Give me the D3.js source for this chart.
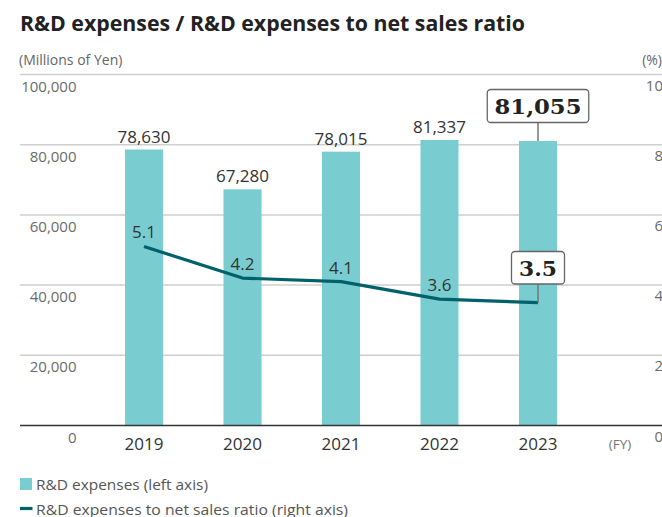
<!DOCTYPE html>
<html>
<head>
<meta charset="utf-8">
<script src="https://cdn.jsdelivr.net/npm/d3@7"></script>
<style>
  html, body { margin: 0; padding: 0; background: #fff; }
  svg { display: block; }
</style>
</head>
<body>
<svg id="chart" width="662" height="517"></svg>
<script>
const years = ["2019", "2020", "2021", "2022", "2023"];
const expenses = [78630, 67280, 78015, 81337, 81055];
const ratios = [5.1, 4.2, 4.1, 3.6, 3.5];
const leftTicks = [0, 20000, 40000, 60000, 80000, 100000];
const rightTicks = [0, 2, 4, 6, 8, 10];
const titleText = "R&D expenses / R&D expenses to net sales ratio";
const legendLabels = ["R&D expenses (left axis)", "R&D expenses to net sales ratio (right axis)"];

const svg = d3.select("#chart");
const font = "'Open Sans', sans-serif";
const barColor = "#79cdd0";
const lineColor = "#00616a";

const x = d3.scaleBand().domain(years).range([94.75, 587.25]).paddingInner(0.614).paddingOuter(0.307);
const yL = d3.scaleLinear().domain([0, 100000]).range([425.5, 74.5]);
const yR = d3.scaleLinear().domain([0, 10]).range([425.5, 74.5]);
const fmt = d3.format(",");

// Title
svg.append("text").attr("x", 20).attr("y", 31)
  .attr("font-family", font).attr("font-weight", 700).attr("font-size", 20.5)
  .attr("textLength", 505).attr("lengthAdjust", "spacingAndGlyphs")
  .attr("fill", "#222").text(titleText);

// Units
svg.append("text").attr("x", 19).attr("y", 65).attr("font-family", font)
  .attr("font-size", 14).attr("fill", "#666").text("(Millions of Yen)");
svg.append("text").attr("x", 662).attr("y", 65).attr("text-anchor", "end").attr("font-family", font)
  .attr("font-size", 14).attr("fill", "#666").text("(%)");

// Gridlines
svg.append("g").selectAll("line").data(leftTicks.filter(d => d > 0)).join("line")
  .attr("x1", 20).attr("x2", 662).attr("y1", d => yL(d)).attr("y2", d => yL(d))
  .attr("stroke", "#cfcfcf").attr("stroke-width", 1.5);

// Left axis labels
svg.append("g").selectAll("text").data(leftTicks).join("text")
  .attr("x", 76.5).attr("y", d => yL(d) + 17).attr("text-anchor", "end")
  .attr("font-family", font).attr("font-size", 15).attr("fill", "#6b6b6b")
  .text(d => fmt(d));

// Right axis labels
svg.append("g").selectAll("text").data(rightTicks).join("text")
  .attr("x", 663).attr("y", d => yR(d) + 16).attr("text-anchor", "end")
  .attr("font-family", font).attr("font-size", 15).attr("fill", "#6b6b6b")
  .text(d => d);

// Bars
svg.append("g").selectAll("rect").data(expenses).join("rect")
  .attr("x", (d, i) => x(years[i])).attr("width", x.bandwidth())
  .attr("y", d => yL(d)).attr("height", d => yL(0) - yL(d))
  .attr("fill", barColor);

// X axis baseline
svg.append("line").attr("x1", 20).attr("x2", 662).attr("y1", yL(0)).attr("y2", yL(0))
  .attr("stroke", "#333").attr("stroke-width", 1.5);

// Year labels
svg.append("g").selectAll("text").data(years).join("text")
  .attr("x", d => x(d) + x.bandwidth() / 2).attr("y", 450).attr("text-anchor", "middle")
  .attr("font-family", font).attr("font-size", 17).attr("fill", "#333").text(d => d);
svg.append("text").attr("x", 620).attr("y", 449).attr("text-anchor", "middle")
  .attr("font-family", font).attr("font-size", 13.5).attr("fill", "#777").text("(FY)");

const cx = i => x(years[i]) + x.bandwidth() / 2;
const last = years.length - 1;

// Bar value labels (except last, which is a callout)
svg.append("g").selectAll("text").data(expenses.slice(0, last)).join("text")
  .attr("x", (d, i) => cx(i)).attr("y", d => yL(d) - 7).attr("text-anchor", "middle")
  .attr("font-family", font).attr("font-size", 17).attr("fill", "#333").text(d => fmt(d));

// Line
const line = d3.line().x((d, i) => cx(i)).y(d => yR(d));
svg.append("path").datum(ratios).attr("d", line).attr("fill", "none")
  .attr("stroke", lineColor).attr("stroke-width", 3.2).attr("stroke-linejoin", "round");

// Ratio labels
svg.append("g").selectAll("text").data(ratios.slice(0, last)).join("text")
  .attr("x", (d, i) => cx(i)).attr("y", d => yR(d) - 8).attr("text-anchor", "middle")
  .attr("font-family", font).attr("font-size", 17).attr("fill", "#333").text(d => d.toFixed(1));

// Callouts
function callout(cxv, boxTop, boxW, boxH, targetY, label, textW) {
  const g = svg.append("g");
  g.append("line").attr("x1", cxv).attr("x2", cxv).attr("y1", boxTop + boxH).attr("y2", targetY)
    .attr("stroke", "#777").attr("stroke-width", 1.5);
  g.append("rect").attr("x", cxv - boxW / 2).attr("y", boxTop).attr("width", boxW).attr("height", boxH)
    .attr("rx", 3.5).attr("fill", "#fff").attr("stroke", "#666").attr("stroke-width", 1.3);
  g.append("text").attr("x", cxv).attr("y", boxTop + boxH / 2 + 7.8).attr("text-anchor", "middle")
    .attr("font-family", "'DejaVu Serif', serif").attr("font-weight", 700).attr("font-size", 21)
    .attr("textLength", textW).attr("lengthAdjust", "spacingAndGlyphs")
    .attr("fill", "#222").text(label);
}
callout(cx(last), 89.5, 101.5, 33, yL(expenses[last]), fmt(expenses[last]), 87);
callout(cx(last), 251.5, 53, 32.5, yR(ratios[last]), ratios[last].toFixed(1), 38);

// Legend
svg.append("rect").attr("x", 20).attr("y", 478).attr("width", 12).attr("height", 12).attr("fill", barColor);
svg.append("text").attr("x", 36).attr("y", 489.5).attr("font-family", font).attr("font-size", 15)
  .attr("textLength", 172).attr("lengthAdjust", "spacingAndGlyphs")
  .attr("fill", "#555").text(legendLabels[0]);
svg.append("line").attr("x1", 20).attr("x2", 32.5).attr("y1", 508.5).attr("y2", 508.5)
  .attr("stroke", lineColor).attr("stroke-width", 3.2);
svg.append("text").attr("x", 36).attr("y", 514.5).attr("font-family", font).attr("font-size", 15)
  .attr("textLength", 312).attr("lengthAdjust", "spacingAndGlyphs")
  .attr("fill", "#555").text(legendLabels[1]);
</script>
</body>
</html>
